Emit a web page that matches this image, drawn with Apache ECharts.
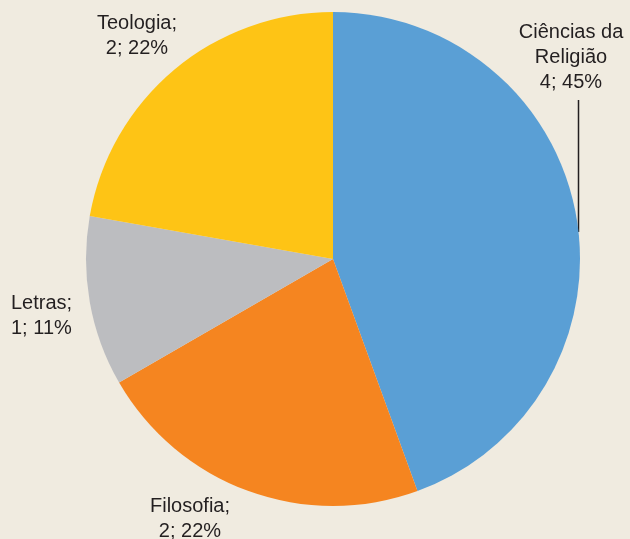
<!DOCTYPE html>
<html>
<head>
<meta charset="utf-8">
<script src="https://cdn.jsdelivr.net/npm/echarts@6/dist/echarts.min.js"></script>
<style>
  html, body { margin: 0; padding: 0; background: #f0ebe0; }
  #chart { width: 630px; height: 539px; }
</style>
</head>
<body>
<div id="chart"></div>
<script>
const categories = ['Ciências da Religião', 'Filosofia', 'Letras', 'Teologia']
const values = [4, 2, 1, 2]
const colors = ['#5a9fd5', '#f58520', '#bcbdc0', '#fec415']
// label spots, outside the pie
const labelSpots = [
  { x: 571, y: 20, align: 'center' },
  { x: 190, y: 494, align: 'center' },
  { x: 11, y: 291, align: 'left' },
  { x: 137, y: 11, align: 'center' }
]

const chart = echarts.init(document.getElementById('chart'))
const option = {
  backgroundColor: '#f0ebe0',
  animation: false,
  textStyle: { fontFamily: 'Liberation Sans' },
  graphic: [{
    type: 'line',
    shape: { x1: 578.5, y1: 100, x2: 578.5, y2: 232 },
    style: { stroke: '#231f20', lineWidth: 1.5 }
  }],
  series: [{
    type: 'pie',
    center: [333, 259],
    radius: [0, 247],
    startAngle: 90,
    clockwise: true,
    percentPrecision: 0,
    data: categories.map((name, i) => ({
      name,
      value: values[i],
      itemStyle: { color: colors[i] }
    })),
    label: {
      show: true,
      position: 'outside',
      color: '#231f20',
      fontSize: 20,
      lineHeight: 25,
      overflow: 'none',
      formatter: p => {
        if (p.dataIndex === 0) return 'Ciências da\nReligião\n' + p.value + '; ' + p.percent + '%'
        return p.name + ';\n' + p.value + '; ' + p.percent + '%'
      }
    },
    labelLine: { show: false },
    labelLayout: p => {
      const s = labelSpots[p.dataIndex]
      return { x: s.x, y: s.y, align: s.align, verticalAlign: 'top', hideOverlap: false }
    },
    emphasis: { disabled: true }
  }]
}
chart.setOption(option)
</script>
</body>
</html>
